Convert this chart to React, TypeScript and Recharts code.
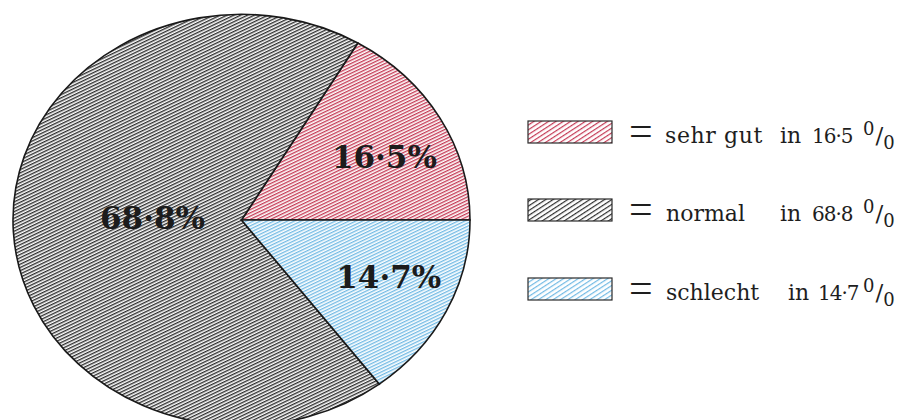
import React from 'react';
import { PieChart, Pie, Cell } from 'recharts';

const categories = ['sehr gut', 'normal', 'schlecht'];
const values = [16.5, 68.8, 14.7];
const sliceLabels = ['16·5%', '68·8%', '14·7%'];
const legendNumbers = ['16·5', '68·8', '14·7'];

const hatchIds = ['hatch-red', 'hatch-gray', 'hatch-blue'];
const legendHatchIds = ['lhatch-red', 'lhatch-gray', 'lhatch-blue'];
const lineColors = ['#c43a55', '#2e2e2e', '#72bae4'];

const data = categories.map((name, i) => ({ name, value: values[i], label: sliceLabels[i] }));

const W = 903;
const H = 420;
const CX = 241.5;
const CY = 220;
const R = 228.5;
const SY = 0.9;
const RAD = Math.PI / 180;

const renderLabel = (props: any) => {
  const { cx, cy, midAngle, outerRadius, percent, index } = props;
  const big = percent > 0.5;
  const rx = outerRadius * (big ? 0.39 : 0.72);
  const ry = outerRadius * (big ? 0.39 : 0.56);
  const x = cx + rx * Math.cos(-midAngle * RAD);
  const y = cy + ry * Math.sin(-midAngle * RAD) - (big ? 7 : 0);
  return (
    <text
      x={x}
      y={y}
      textAnchor="middle"
      dominantBaseline="central"
      fontFamily="'DejaVu Serif', serif"
      fontWeight="bold"
      fontSize={31}
      fill="#1c1c1c"
    >
      {sliceLabels[index]}
    </text>
  );
};

const rowBaselines = [143, 221, 300];
const boxX = 528;
const boxW = 84;
const boxH = 22;
const wordX = [665, 666, 666];
const inX = [780, 780, 788];
const numX = [812, 812, 818];
const pctX = 863;

const Legend = () => (
  <svg width={W} height={H} style={{ position: 'absolute', left: 0, top: 0 }}>
    {categories.map((c, i) => {
      const b = rowBaselines[i];
      return (
        <g key={c} fontFamily="'DejaVu Serif', serif" fill="#1e1e1e">
          <rect x={boxX} y={b - boxH} width={boxW} height={boxH} fill={`url(#${legendHatchIds[i]})`} stroke="#2a2a2a" strokeWidth={1.2} />
          <text x={629} y={b + 2} fontSize={42} fontFamily="'Liberation Serif', serif">=</text>
          <text x={wordX[i]} y={b} fontSize={22} letterSpacing={i === 0 ? 0.6 : 0}>{i === 0 ? 'sehr  gut' : c}</text>
          <text x={inX[i]} y={b} fontSize={22}>in</text>
          <text x={numX[i]} y={b} fontSize={20} letterSpacing={-1}>{legendNumbers[i]}</text>
          <text x={pctX} y={b} fontSize={23}>
            <tspan fontSize={18} dy={-8}>0</tspan>
            <tspan dy={8} dx={1}>/</tspan>
            <tspan fontSize={18} dy={6}>0</tspan>
          </text>
        </g>
      );
    })}
  </svg>
);

export default function App() {
  return (
    <div style={{ position: 'relative', width: W, height: H, background: '#ffffff', overflow: 'hidden' }}>
      <style>{`
        body { margin: 0; background: #ffffff; }
        .recharts-sector { transform-origin: ${CX}px ${CY}px; transform: scaleY(${SY}); vector-effect: non-scaling-stroke; }
      `}</style>
      <svg width={0} height={0} style={{ position: 'absolute' }}>
        <defs>
          {hatchIds.map((id, i) => (
            <pattern key={id} id={id} patternUnits="userSpaceOnUse" width={10} height={3.2} patternTransform="rotate(-28)">
              <rect x={0} y={0} width={10} height={3.2} fill="#ffffff" />
              <rect x={0} y={0} width={10} height={i === 1 ? 1.5 : 1.45} fill={lineColors[i]} />
            </pattern>
          ))}
          {legendHatchIds.map((id, i) => (
            <pattern key={id} id={id} patternUnits="userSpaceOnUse" width={10} height={4} patternTransform="rotate(-33)">
              <rect x={0} y={0} width={10} height={4} fill="#ffffff" />
              <rect x={0} y={0} width={10} height={1.2} fill={lineColors[i]} />
            </pattern>
          ))}
        </defs>
      </svg>
      <PieChart width={W} height={H} margin={{ top: 0, right: 0, bottom: 0, left: 0 }}>
        <Pie
          data={data}
          dataKey="value"
          nameKey="name"
          cx={CX}
          cy={CY}
          outerRadius={R}
          startAngle={0}
          endAngle={360}
          stroke="#1a1a1a"
          strokeWidth={1.6}
          label={renderLabel}
          labelLine={false}
          isAnimationActive={false}
        >
          {data.map((d, i) => (
            <Cell key={d.name} fill={`url(#${hatchIds[i]})`} />
          ))}
        </Pie>
      </PieChart>
      <Legend />
    </div>
  );
}
